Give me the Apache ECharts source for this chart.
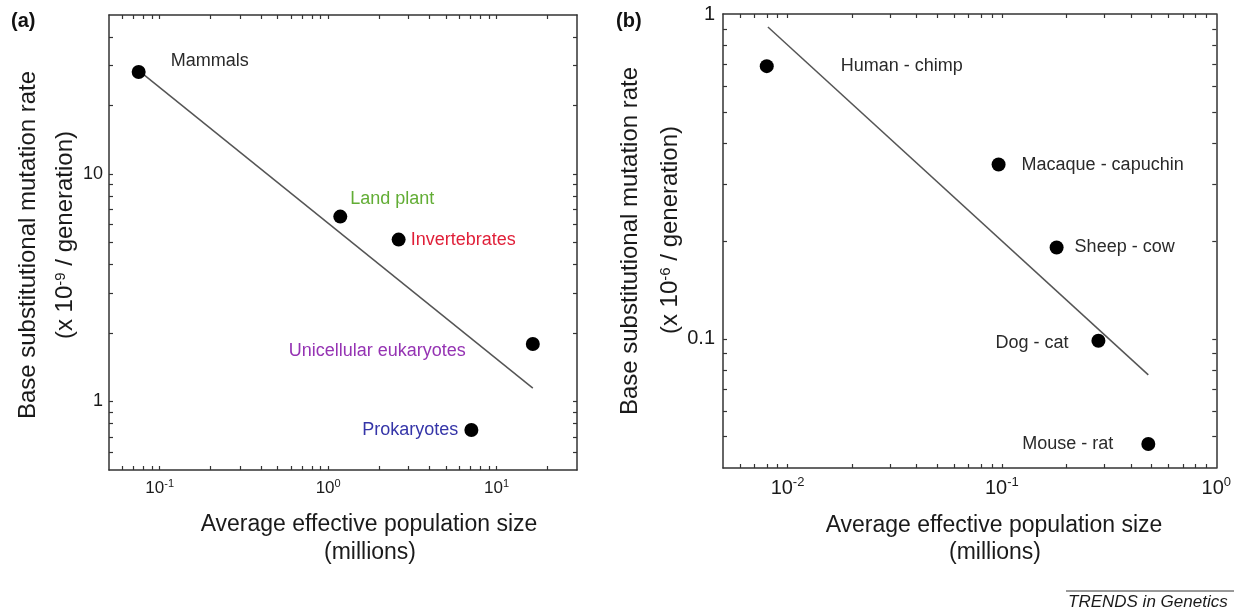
<!DOCTYPE html>
<html>
<head>
<meta charset="utf-8">
<title>Mutation rate vs effective population size</title>
<script src="https://cdn.jsdelivr.net/npm/echarts@6/dist/echarts.min.js"></script>
<style>
    html, body { margin: 0; padding: 0; background: #fff; }
    #chart { width: 1234px; height: 613px; }
</style>
</head>
<body>
<div id="chart"></div>
<script>
// panel (a): data
var namesA = ['Mammals', 'Land plant', 'Invertebrates', 'Unicellular eukaryotes', 'Prokaryotes'];
var popA = [0.075, 1.18, 2.62, 16.4, 7.08];
var rateA = [28.1, 6.5, 5.15, 1.79, 0.75];
var fitPopA = [0.0764, 16.4];
var fitRateA = [28.2, 1.145];
var xLabelsA = [0.1, 1, 10];
var yLabelsA = [1, 10];

// panel (b): data
var namesB = ['Human - chimp', 'Macaque - capuchin', 'Sheep - cow', 'Dog - cat', 'Mouse - rat'];
var popB = [0.008, 0.0965, 0.18, 0.282, 0.482];
var rateB = [0.691, 0.344, 0.191, 0.0986, 0.0474];
var fitPopB = [0.0081, 0.482];
var fitRateB = [0.912, 0.0774];
var xLabelsB = [0.01, 0.1, 1];
var yLabelsB = [0.1, 1];

(function() {
    var font = "'Liberation Sans', Arial, Helvetica, sans-serif";
    var ink = '#1a1a1a';
    var axisInk = '#333';

    // label placement / colour for each point
    var placeA = [
        { position: 'right', distance: 25, offset: [0, -11], color: '#2a2a2a' },
        { position: 'right', distance: 3, offset: [0, -18], color: '#62ad35' },
        { position: 'right', distance: 5, offset: [0, 0], color: '#e01f38' },
        { position: 'left', distance: 60, offset: [0, 7], color: '#9533b3' },
        { position: 'left', distance: 6, offset: [0, 0], color: '#3535a8' }
    ];
    var placeB = [
        { position: 'right', distance: 67, offset: [0, 0], color: '#2a2a2a' },
        { position: 'right', distance: 16, offset: [0, 1], color: '#2a2a2a' },
        { position: 'right', distance: 11, offset: [0, 0], color: '#2a2a2a' },
        { position: 'left', distance: 23, offset: [0, 2], color: '#2a2a2a' },
        { position: 'left', distance: 28, offset: [0, 0], color: '#2a2a2a' }
    ];

    // minor + major log ticks strictly inside [lo, hi]
    function logTicks(lo, hi) {
        var out = [];
        for (var e = -4; e <= 3; e++) {
            for (var m = 1; m <= 9; m++) {
                var v = +(m * Math.pow(10, e)).toPrecision(6);
                if (v > lo * 1.001 && v < hi * 0.999) out.push(v);
            }
        }
        return out;
    }

    function powLabel(v) {
        return '{b|10}{s|' + Math.round(Math.log10(v)) + '}';
    }

    function xAxes(grid, min, max, labels, size, supSize) {
        var base = {
            gridIndex: grid, type: 'log', logBase: 10, min: min, max: max,
            axisLine: { show: true, onZero: false, lineStyle: { color: axisInk, width: 1.5 } },
            axisTick: { show: true, inside: true, length: 4, customValues: logTicks(min, max),
                        lineStyle: { color: axisInk, width: 1.2 } },
            splitLine: { show: false }
        };
        var bottom = echarts.util.merge({
            position: 'bottom',
            axisLabel: {
                customValues: labels, formatter: powLabel, margin: 8, color: ink,
                rich: {
                    b: { fontFamily: font, fontSize: size, color: ink, lineHeight: size + 4 },
                    s: { fontFamily: font, fontSize: supSize, color: ink, verticalAlign: 'top' }
                }
            }
        }, base, true);
        var top = echarts.util.merge({ position: 'top', axisLabel: { show: false } }, base, true);
        return [bottom, top];
    }

    function yAxes(grid, min, max, labels, size, margin) {
        var base = {
            gridIndex: grid, type: 'log', logBase: 10, min: min, max: max,
            axisLine: { show: true, onZero: false, lineStyle: { color: axisInk, width: 1.5 } },
            axisTick: { show: true, inside: true, length: 4, customValues: logTicks(min, max),
                        lineStyle: { color: axisInk, width: 1.2 } },
            splitLine: { show: false }
        };
        var left = echarts.util.merge({
            position: 'left',
            axisLabel: {
                customValues: labels, margin: margin, color: ink,
                fontFamily: font, fontSize: size,
                formatter: function(v) { return String(v); }
            }
        }, base, true);
        var right = echarts.util.merge({ position: 'right', axisLabel: { show: false } }, base, true);
        return [left, right];
    }

    function points(names, xs, ys, place) {
        return names.map(function(n, i) {
            return {
                name: n,
                value: [xs[i], ys[i]],
                label: {
                    show: true,
                    position: place[i].position,
                    distance: place[i].distance,
                    offset: place[i].offset,
                    color: place[i].color
                }
            };
        });
    }

    function fit(xs, ys) {
        return xs.map(function(x, i) { return [x, ys[i]]; });
    }

    var xs = xAxes(0, 0.05, 30, xLabelsA, 17, 11).concat(xAxes(1, 0.005, 1, xLabelsB, 20, 13));
    var ys = yAxes(0, 0.5, 50, yLabelsA, 18, 6).concat(yAxes(1, 0.04, 1, yLabelsB, 20, 8));

    var pointLabel = { formatter: '{b}', fontFamily: font, fontSize: 18, opacity: 1 };
    var dot = { color: '#000', opacity: 1 };

    var myChart = echarts.init(document.getElementById('chart'));
    var option = {
        animation: false,
        backgroundColor: '#fff',
        textStyle: { fontFamily: font },
        grid: [
            { left: 109, top: 15, width: 468, height: 455 },
            { left: 723, top: 14, width: 494, height: 454 }
        ],
        xAxis: xs,
        yAxis: ys,
        series: [
            {
                type: 'line', xAxisIndex: 0, yAxisIndex: 0,
                data: fit(fitPopA, fitRateA), showSymbol: false, silent: true,
                lineStyle: { color: '#555', width: 1.5 }, z: 1
            },
            {
                type: 'scatter', xAxisIndex: 0, yAxisIndex: 0,
                symbol: 'circle', symbolSize: 14,
                itemStyle: dot,
                label: pointLabel,
                data: points(namesA, popA, rateA, placeA), z: 3
            },
            {
                type: 'line', xAxisIndex: 2, yAxisIndex: 2,
                data: fit(fitPopB, fitRateB), showSymbol: false, silent: true,
                lineStyle: { color: '#555', width: 1.5 }, z: 1
            },
            {
                type: 'scatter', xAxisIndex: 2, yAxisIndex: 2,
                symbol: 'circle', symbolSize: 14,
                itemStyle: dot,
                label: pointLabel,
                data: points(namesB, popB, rateB, placeB), z: 3
            }
        ],
        graphic: [
            { type: 'text', left: 11, top: 11, style: { text: '(a)', fontFamily: font, fontSize: 20, fontWeight: 'bold', fill: '#111' } },
            { type: 'text', left: 616, top: 11, style: { text: '(b)', fontFamily: font, fontSize: 20, fontWeight: 'bold', fill: '#111' } },

            { type: 'text', x: 369, y: 525, style: { text: 'Average effective population size', fontFamily: font, fontSize: 23, fill: ink, align: 'center', verticalAlign: 'middle' } },
            { type: 'text', x: 370, y: 553, style: { text: '(millions)', fontFamily: font, fontSize: 23, fill: ink, align: 'center', verticalAlign: 'middle' } },
            { type: 'text', x: 994, y: 526, style: { text: 'Average effective population size', fontFamily: font, fontSize: 23, fill: ink, align: 'center', verticalAlign: 'middle' } },
            { type: 'text', x: 995, y: 553, style: { text: '(millions)', fontFamily: font, fontSize: 23, fill: ink, align: 'center', verticalAlign: 'middle' } },

            { type: 'text', x: 28, y: 245, rotation: Math.PI / 2, style: { text: 'Base substitutional mutation rate', fontFamily: font, fontSize: 24, fill: ink, align: 'center', verticalAlign: 'middle' } },
            { type: 'text', x: 65, y: 235, rotation: Math.PI / 2, style: {
                text: '{n|(x 10}{s|-9}{n| / generation)}', align: 'center', verticalAlign: 'middle',
                rich: { n: { fontFamily: font, fontSize: 24, fill: ink }, s: { fontFamily: font, fontSize: 15, fill: ink, verticalAlign: 'top' } }
            } },
            { type: 'text', x: 630, y: 241, rotation: Math.PI / 2, style: { text: 'Base substitutional mutation rate', fontFamily: font, fontSize: 24, fill: ink, align: 'center', verticalAlign: 'middle' } },
            { type: 'text', x: 670, y: 230, rotation: Math.PI / 2, style: {
                text: '{n|(x 10}{s|-6}{n| / generation)}', align: 'center', verticalAlign: 'middle',
                rich: { n: { fontFamily: font, fontSize: 24, fill: ink }, s: { fontFamily: font, fontSize: 15, fill: ink, verticalAlign: 'top' } }
            } },

            { type: 'line', shape: { x1: 1066, y1: 591, x2: 1234, y2: 591 }, style: { stroke: '#333', lineWidth: 1 } },
            { type: 'text', x: 1068, y: 602, style: { text: 'TRENDS in Genetics', fontFamily: font, fontSize: 17, fontStyle: 'italic', fill: ink, align: 'left', verticalAlign: 'middle' } }
        ]
    };
    myChart.setOption(option);
})();
</script>
</body>
</html>
